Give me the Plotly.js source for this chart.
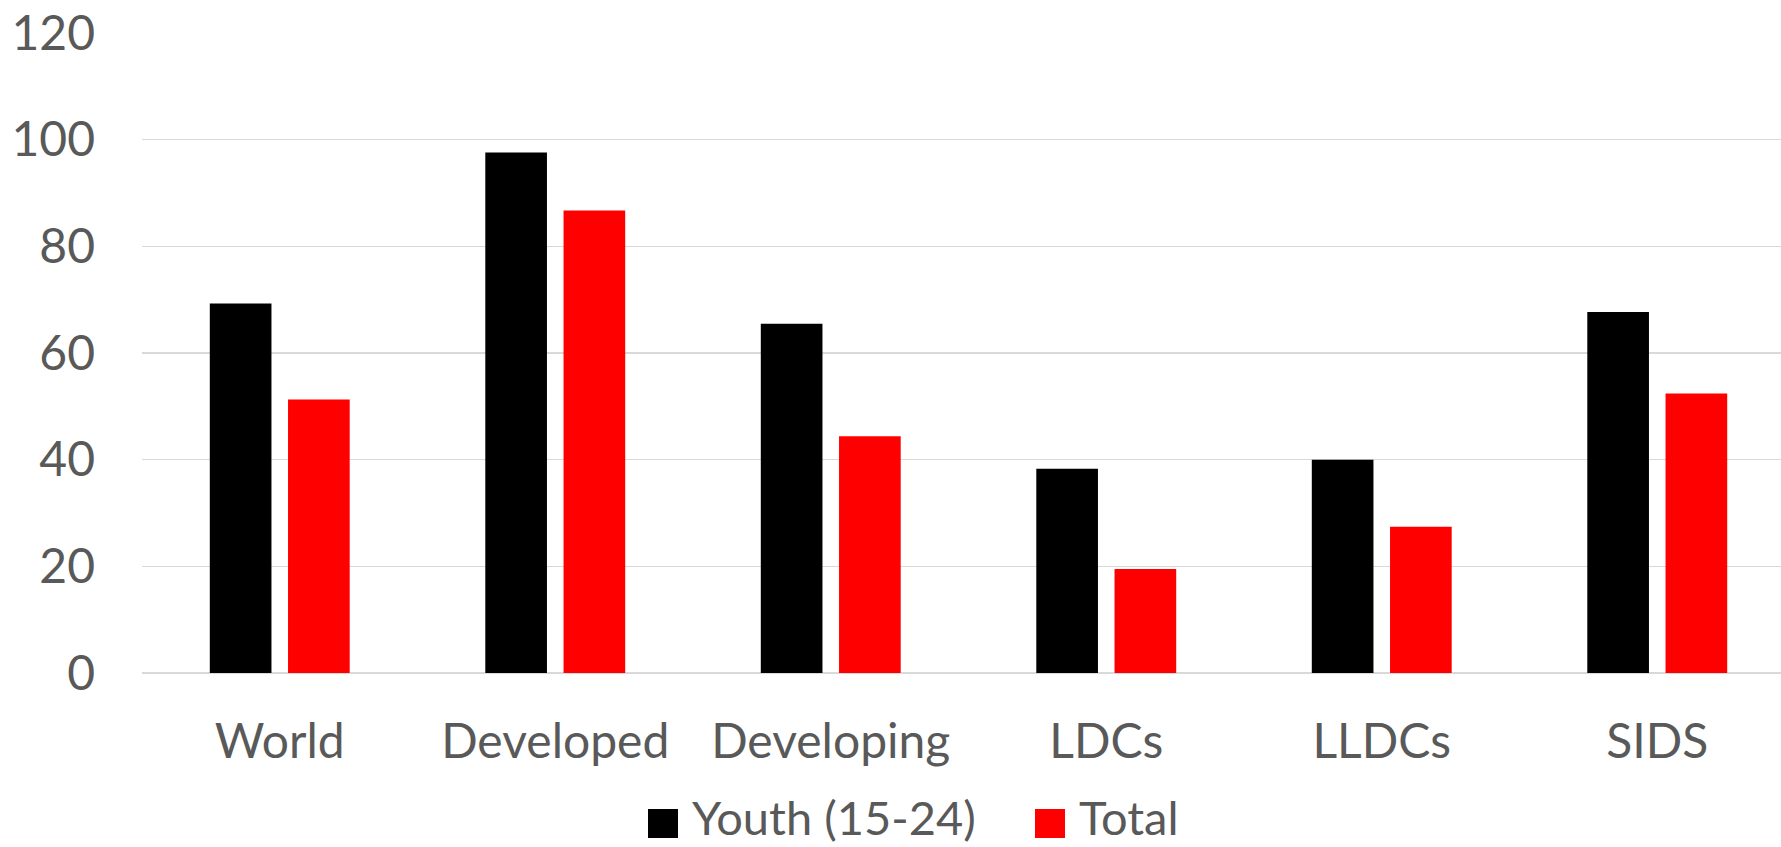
<!DOCTYPE html>
<html>
<head>
<meta charset="utf-8">
<script src="https://cdn.plot.ly/plotly-3.0.1.min.js"></script>
<style>
  html, body { margin: 0; padding: 0; background: #ffffff; }
  #chart { width: 1781px; height: 847px; }
</style>
</head>
<body>
<div id="chart"></div>
<script>
// Country groups shown along the x axis
const categories = ["World", "Developed", "Developing", "LDCs", "LLDCs", "SIDS"];

// Series values per group
const youthName = "Youth (15-24)";
const youthValues = [69.3, 97.6, 65.5, 38.3, 40.0, 67.7];

const totalName = "Total";
const totalValues = [51.3, 86.7, 44.4, 19.5, 27.4, 52.4];

// Y axis ticks
const yTicks = [0, 20, 40, 60, 80, 100, 120];

const textColor = "#595959";
const gridColor = "#d9d9d9";
const fontFamily = "Lato, 'Open Sans', sans-serif";
const fontSize = 48;

const W = 1781, H = 847;
const margin = { l: 142, r: 0, t: 33, b: 174 };
const plotW = W - margin.l - margin.r;
const plotH = H - margin.t - margin.b;

// pixel position -> paper fraction helpers for the hand-built legend
const px = x => (x - margin.l) / plotW;
const py = y => (H - margin.b - y) / plotH;

const series = [
  { name: youthName, values: youthValues, color: "#000000" },
  { name: totalName, values: totalValues, color: "#ff0000" }
];

const traces = series.map(s => ({
  type: "bar",
  name: s.name,
  x: categories,
  y: s.values,
  marker: { color: s.color, line: { width: 0 } },
  showlegend: false,
  hoverinfo: "x+y+name"
}));

// Legend: large square swatches followed by the series names
const legendItems = [
  { s: series[0], sx: 648, textX: 691 },
  { s: series[1], sx: 1035, textX: 1078 }
];
const shapes = legendItems.map(it => ({
  type: "rect",
  xref: "paper", yref: "paper",
  x0: px(it.sx), x1: px(it.sx + 30),
  y0: py(838), y1: py(809),
  fillcolor: it.s.color,
  line: { width: 0 }
}));
const annotations = legendItems.map(it => ({
  xref: "paper", yref: "paper",
  x: px(it.textX), y: py(817),
  xanchor: "left", yanchor: "middle",
  borderpad: 0,
  text: it.s.name,
  showarrow: false,
  font: { family: fontFamily, size: 47, color: textColor }
}));

const layout = {
  width: W, height: H,
  margin: margin,
  paper_bgcolor: "#ffffff",
  plot_bgcolor: "#ffffff",
  barmode: "group",
  bargap: 0.432,
  bargroupgap: 0.212,
  showlegend: false,
  font: { family: fontFamily, size: fontSize, color: textColor },
  xaxis: {
    type: "category",
    range: [-0.5, -0.5 + plotW / 275.5],
    showgrid: false,
    showline: false,
    zeroline: false,
    ticks: "",
    ticklabelstandoff: 36,
    tickfont: { family: fontFamily, size: fontSize, color: textColor },
    fixedrange: true
  },
  yaxis: {
    range: [0, 120],
    tickvals: yTicks,
    ticktext: yTicks.map(String),
    showgrid: true,
    gridcolor: gridColor,
    gridwidth: 1.3,
    zeroline: true,
    zerolinecolor: gridColor,
    zerolinewidth: 1.6,
    showline: false,
    ticks: "",
    ticklabelstandoff: 46,
    tickfont: { family: fontFamily, size: fontSize, color: textColor },
    fixedrange: true
  },
  shapes: shapes,
  annotations: annotations
};

Plotly.newPlot("chart", traces, layout, { displayModeBar: false, staticPlot: true });
</script>
</body>
</html>
